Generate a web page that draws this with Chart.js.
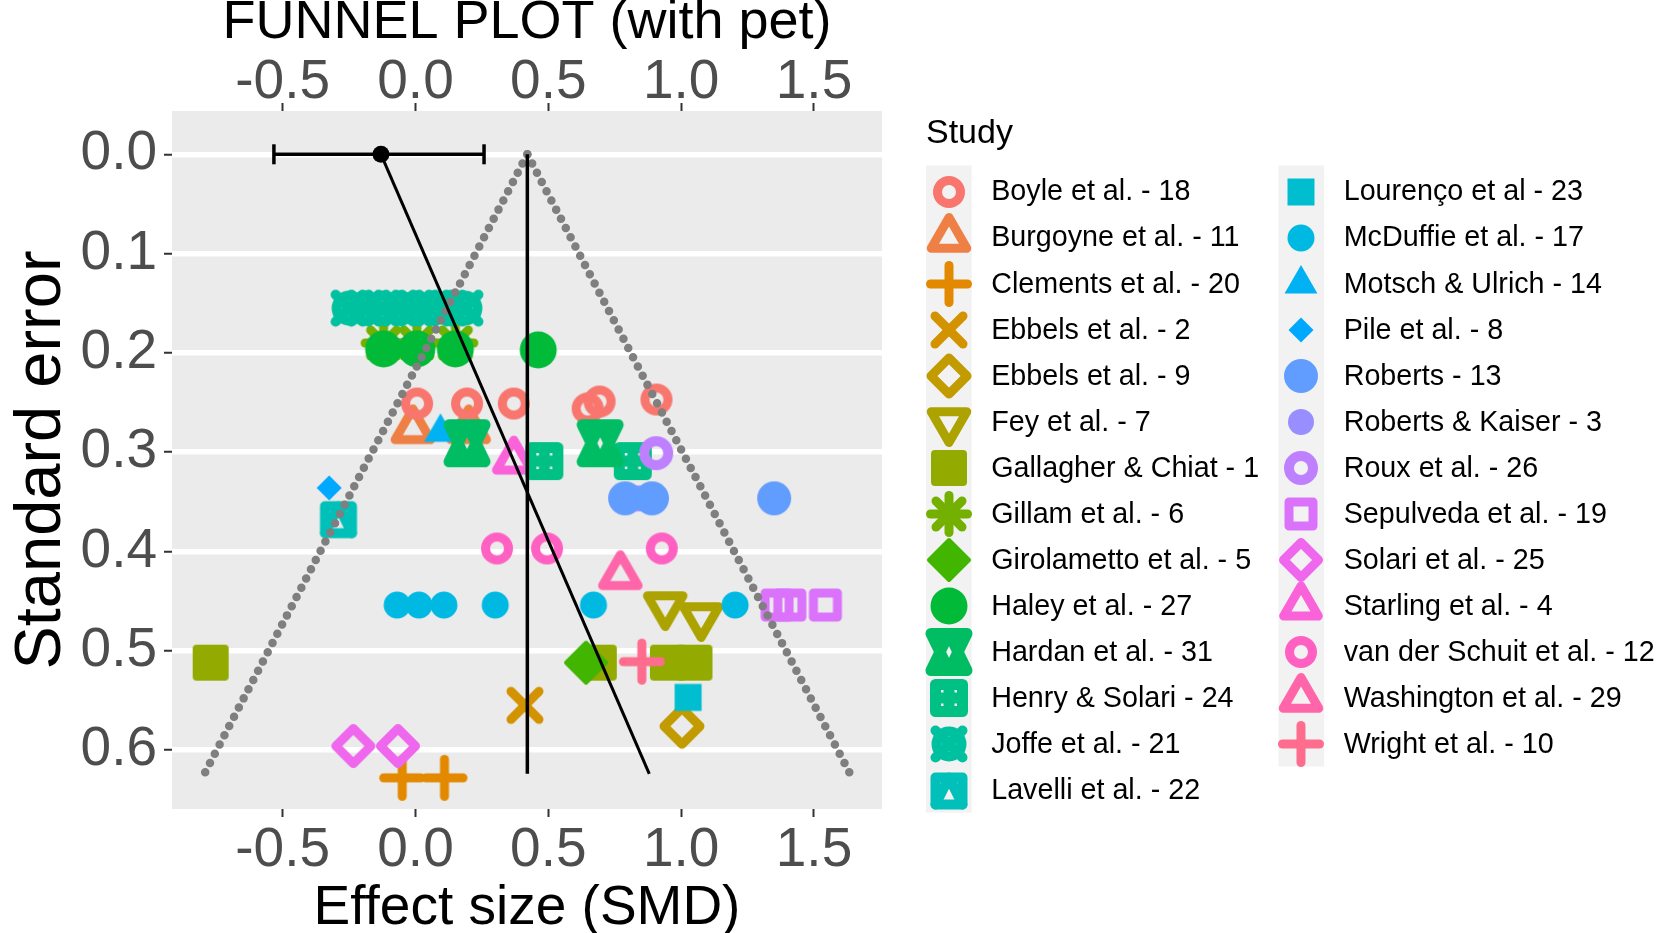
<!DOCTYPE html>
<html>
<head>
<meta charset="utf-8">
<script src="https://cdn.jsdelivr.net/npm/chart.js@4.4.0/dist/chart.umd.min.js"></script>
<style>
  body { margin: 0; background: #fff; }
  #wrap { position: absolute; left: 0; top: 0; width: 1668px; height: 933px; }
</style>
</head>
<body>
<div id="wrap"><canvas id="funnelChart" width="1668" height="933"></canvas></div>
<script>
// Studies (legend order) and their values: effect size (SMD) and standard error
const studies = [
    'Boyle et al. - 18', 'Burgoyne et al. - 11', 'Clements et al. - 20', 'Ebbels et al. - 2',
    'Ebbels et al. - 9', 'Fey et al. - 7', 'Gallagher & Chiat - 1', 'Gillam et al. - 6',
    'Girolametto et al. - 5', 'Haley et al. - 27', 'Hardan et al. - 31', 'Henry & Solari - 24',
    'Joffe et al. - 21', 'Lavelli et al. - 22', 'Lourenço et al - 23', 'McDuffie et al. - 17',
    'Motsch & Ulrich - 14', 'Pile et al. - 8', 'Roberts - 13', 'Roberts & Kaiser - 3',
    'Roux et al. - 26', 'Sepulveda et al. - 19', 'Solari et al. - 25', 'Starling et al. - 4',
    'van der Schuit et al. - 12', 'Washington et al. - 29', 'Wright et al. - 10'
];

const smd = [
    [0.006, 0.194, 0.37, 0.648, 0.693, 0.907],
    [-0.01, 0.20],
    [-0.05, 0.109],
    [0.412],
    [1.003],
    [0.94, 1.075],
    [-0.771, 0.69, 0.95, 1.05],
    [-0.12, 0.005, 0.15],
    [0.642],
    [-0.12, 0.005, 0.15, 0.462],
    [0.194, 0.695],
    [0.485, 0.818],
    [-0.25, -0.19, -0.125, -0.06, 0.0, 0.065, 0.125, 0.186],
    [-0.29],
    [1.026],
    [-0.069, 0.013, 0.107, 0.30, 0.67, 1.203],
    [0.094],
    [-0.325],
    [0.789, 0.89, 1.35],
    [0.84],
    [0.906],
    [1.361, 1.409, 1.543],
    [-0.234, -0.066],
    [0.37],
    [0.307, 0.495, 0.927],
    [0.771],
    [0.852]
];

const se = [
    [0.251, 0.251, 0.251, 0.256, 0.249, 0.247],
    [0.277, 0.277],
    [0.628, 0.628],
    [0.555],
    [0.576],
    [0.455, 0.466],
    [0.512, 0.512, 0.512, 0.512],
    [0.19, 0.19, 0.19],
    [0.512],
    [0.196, 0.196, 0.196, 0.197],
    [0.291, 0.291],
    [0.309, 0.309],
    [0.155, 0.155, 0.155, 0.155, 0.155, 0.155, 0.155, 0.155],
    [0.368],
    [0.547],
    [0.454, 0.454, 0.454, 0.454, 0.454, 0.454],
    [0.28],
    [0.336],
    [0.3465, 0.3465, 0.3465],
    [0.3465],
    [0.301],
    [0.454, 0.454, 0.454],
    [0.596, 0.596],
    [0.308],
    [0.397, 0.397, 0.397],
    [0.424],
    [0.511]
];

// funnel (pooled estimate +/- 1.96 SE), PET regression line and its CI at SE = 0
const funnelSE = [0, 0.624];
const funnelLeftSMD = [0.421, -0.795];
const funnelRightSMD = [0.421, 1.636];
const pooledSMD = [0.421, 0.421];
const petSMD = [-0.13, 0.88];
const petCI = [-0.533, 0.258];

const smdTicks = [-0.5, 0.0, 0.5, 1.0, 1.5];
const seTicks = [0.0, 0.1, 0.2, 0.3, 0.4, 0.5, 0.6];

// ggplot shape number used for each study
const studyShapes = [1, 2, 3, 4, 5, 6, 7, 8, 9, 10, 11, 12, 13, 14, 15, 16, 17, 18, 19, 20, 21, 22, 23, 24, 1, 2, 3];

const FONT = '"Liberation Sans", Arial, sans-serif';

// ggplot2 default hue palette (hcl, c = 100, l = 65)
function hcl(h, c, l) {
    const WX = 95.047, WY = 100.0, WZ = 108.883;
    const wu = 4 * WX / (WX + 15 * WY + 3 * WZ);
    const wv = 9 * WY / (WX + 15 * WY + 3 * WZ);
    const hr = h * Math.PI / 180;
    const U = c * Math.cos(hr), V = c * Math.sin(hr);
    const Y = WY * (l > 7.999592 ? Math.pow((l + 16) / 116, 3) : l / 903.3);
    const u = U / (13 * l) + wu, v = V / (13 * l) + wv;
    const X = 9.0 * Y * u / (4 * v);
    const Z = -X / 3 - 5 * Y + 3 * Y / v;
    const g = t => {
        t = t / 100;
        const r = t > 0.00304 ? 1.055 * Math.pow(t, 1 / 2.4) - 0.055 : 12.92 * t;
        return Math.round(255 * Math.min(1, Math.max(0, r)));
    };
    const R = g(3.240479 * X - 1.537150 * Y - 0.498535 * Z);
    const G = g(-0.969256 * X + 1.875992 * Y + 0.041556 * Z);
    const B = g(0.055648 * X - 0.204043 * Y + 1.057311 * Z);
    return `rgb(${R}, ${G}, ${B})`;
}

const studyColors = studies.map((s, i) => hcl(15 + i * 360 / studies.length, 100, 65));

// draw a ggplot-like point shape on a small canvas, used as pointStyle
function makeMarker(pch, color) {
    const size = 64;
    const c = document.createElement('canvas');
    c.width = size;
    c.height = size;
    const g = c.getContext('2d');
    g.translate(size / 2, size / 2);
    g.strokeStyle = color;
    g.fillStyle = color;
    g.lineJoin = 'round';
    g.lineCap = 'round';
    g.lineWidth = 9;

    const tri = (R, down) => {
        const s = down ? -1 : 1;
        g.beginPath();
        g.moveTo(0, -R * s);
        g.lineTo(R * 0.866, R / 2 * s);
        g.lineTo(-R * 0.866, R / 2 * s);
        g.closePath();
    };
    const diamond = (D) => {
        g.beginPath();
        g.moveTo(0, -D); g.lineTo(D, 0); g.lineTo(0, D); g.lineTo(-D, 0);
        g.closePath();
    };
    const seg = (x1, y1, x2, y2) => {
        g.beginPath(); g.moveTo(x1, y1); g.lineTo(x2, y2); g.stroke();
    };
    const circle = (r) => { g.beginPath(); g.arc(0, 0, r, 0, Math.PI * 2); };

    switch (pch) {
        case 1: circle(11.5); g.stroke(); break;
        case 2: tri(20.5); g.stroke(); break;
        case 3: seg(-18.5, 0, 18.5, 0); seg(0, -18.5, 0, 18.5); break;
        case 4: seg(-14, -14, 14, 14); seg(-14, 14, 14, -14); break;
        case 5: diamond(18); g.stroke(); break;
        case 6: tri(20.5, true); g.stroke(); break;
        case 7:
            g.beginPath(); g.roundRect(-18, -18, 36, 36, 4); g.fill(); break;
        case 8:
            seg(-18.5, 0, 18.5, 0); seg(0, -18.5, 0, 18.5);
            seg(-13, -13, 13, 13); seg(-13, 13, 13, -13); break;
        case 9: diamond(20); g.fill(); g.lineWidth = 4; g.stroke(); break;
        case 10: circle(18.5); g.fill(); break;
        case 11: {
            g.lineWidth = 11;
            const w = 18, h = 18.5;
            g.beginPath(); g.moveTo(0, -h); g.lineTo(w, h); g.lineTo(-w, h); g.closePath(); g.stroke();
            g.beginPath(); g.moveTo(0, h); g.lineTo(w, -h); g.lineTo(-w, -h); g.closePath(); g.stroke();
            break;
        }
        case 12:
            g.lineWidth = 11;
            g.strokeRect(-13.5, -13.5, 27, 27);
            seg(-13.5, 0, 13.5, 0); seg(0, -13.5, 0, 13.5); break;
        case 13:
            g.lineWidth = 10;
            circle(12.5); g.stroke();
            seg(-13.5, -13.5, 13.5, 13.5); seg(-13.5, 13.5, 13.5, -13.5); break;
        case 14:
            g.lineWidth = 10;
            g.strokeRect(-13.5, -13.5, 27, 27);
            g.beginPath(); g.moveTo(-13.5, 13.5); g.lineTo(0, -13.5); g.lineTo(13.5, 13.5); g.stroke(); break;
        case 15: g.fillRect(-13.5, -13.5, 27, 27); break;
        case 16: circle(13.5); g.fill(); break;
        case 17: tri(19); g.fill(); break;
        case 18: diamond(12.5); g.fill(); break;
        case 19: circle(17); g.fill(); break;
        case 20: circle(13); g.fill(); break;
        case 21: g.lineWidth = 10; circle(12); g.stroke(); break;
        case 22: g.strokeRect(-12, -12, 24, 24); break;
        case 23: diamond(17.5); g.stroke(); break;
        case 24: tri(20); g.stroke(); break;
    }
    return c;
}

const markers = studies.map((s, i) => makeMarker(studyShapes[i], studyColors[i]));

// grey panel behind the plot
const panelBackground = {
    id: 'panelBackground',
    beforeDraw(chart) {
        const { ctx, chartArea: a } = chart;
        ctx.save();
        ctx.fillStyle = '#EBEBEB';
        ctx.fillRect(a.left, a.top, a.width, a.height);
        ctx.restore();
    }
};

// two-column legend like ggplot's guide
const studyLegend = {
    id: 'studyLegend',
    afterDraw(chart) {
        const ctx = chart.ctx;
        const rows = 14, rowH = 46.08, firstRow = 191.5, keyW = 45.7;
        const cols = [926, 1278.5];
        ctx.save();
        ctx.fillStyle = '#000';
        ctx.font = '34px ' + FONT;
        ctx.textAlign = 'left';
        ctx.textBaseline = 'alphabetic';
        ctx.fillText('Study', 926, 143);

        // grey key strips
        ctx.fillStyle = '#F2F2F2';
        ctx.fillRect(cols[0], firstRow - 26, keyW, rows * rowH + 2);
        ctx.fillRect(cols[1], firstRow - 26, keyW, (studies.length - rows) * rowH + 2);

        studies.forEach((name, i) => {
            const kx = cols[Math.floor(i / rows)], cy = firstRow + (i % rows) * rowH;
            ctx.drawImage(markers[i], Math.round(kx + keyW / 2 - 32), Math.round(cy - 32));
            ctx.fillStyle = '#000';
            ctx.font = '28.7px ' + FONT;
            ctx.textBaseline = 'middle';
            ctx.fillText(name, kx + keyW + 19.5, cy + 1);
        });
        ctx.restore();
    }
};

const studyNumber = name => parseInt(name.split('- ')[1], 10);

const studyDatasets = studies.map((name, i) => ({
    label: name,
    data: smd[i].map((x, j) => ({ x: x, y: se[i][j] })),
    pointStyle: markers[i],
    pointRadius: 16,
    showLine: false,
    order: 100 - studyNumber(name)
}));

const toPoints = (xs, ys) => xs.map((x, j) => ({ x: x, y: ys[j] }));

const lineDatasets = [
    {
        label: 'funnel left',
        data: toPoints(funnelLeftSMD, funnelSE),
        showLine: true,
        borderColor: '#7F7F7F',
        borderWidth: 8.5,
        borderDash: [0, 10.4],
        borderCapStyle: 'round',
        pointRadius: 0,
        order: -5
    },
    {
        label: 'funnel right',
        data: toPoints(funnelRightSMD, funnelSE),
        showLine: true,
        borderColor: '#7F7F7F',
        borderWidth: 8.5,
        borderDash: [0, 10.4],
        borderCapStyle: 'round',
        pointRadius: 0,
        order: -5
    },
    {
        label: 'pooled',
        data: toPoints(pooledSMD, funnelSE),
        showLine: true,
        borderColor: '#000',
        borderWidth: 3.5,
        pointRadius: 0,
        order: -6
    },
    {
        label: 'PET',
        data: toPoints(petSMD, funnelSE),
        showLine: true,
        borderColor: '#000',
        borderWidth: 3,
        pointRadius: 0,
        order: -7
    },
    {
        label: 'PET CI',
        data: toPoints(petCI, [0, 0]),
        showLine: true,
        borderColor: '#000',
        borderWidth: 3.5,
        pointStyle: 'line',
        pointRotation: 90,
        pointRadius: 10,
        pointBorderWidth: 3.5,
        pointBorderColor: '#000',
        order: -8
    },
    {
        label: 'PET estimate',
        data: toPoints([petSMD[0]], [0]),
        showLine: false,
        pointStyle: 'circle',
        pointRadius: 8.5,
        pointBorderWidth: 0,
        pointBackgroundColor: '#000',
        order: -9
    }
];

const tickFont = { family: FONT, size: 55, lineHeight: 1.0 };

new Chart(document.getElementById('funnelChart'), {
    type: 'scatter',
    data: { datasets: studyDatasets.concat(lineDatasets) },
    options: {
        responsive: false,
        animation: false,
        events: [],
        layout: { padding: { left: 0, right: 786, top: 0, bottom: 0 } },
        plugins: {
            legend: { display: false },
            tooltip: { enabled: false },
            title: {
                display: true,
                text: 'FUNNEL PLOT (with pet)',
                fullSize: false,
                color: '#000',
                font: { family: FONT, size: 54, weight: 'normal', lineHeight: 1.0 },
                padding: { top: -4, bottom: 0 }
            }
        },
        scales: {
            x: {
                type: 'linear',
                position: 'bottom',
                min: -0.9166,
                max: 1.756,
                afterBuildTicks: s => { s.ticks = smdTicks.map(v => ({ value: v })); },
                afterFit: s => { s.height = 124; },
                border: { display: false },
                grid: { drawOnChartArea: false, drawTicks: true, tickLength: 8, tickWidth: 2, tickColor: '#333333' },
                ticks: { font: tickFont, color: '#4D4D4D', padding: 6.5, maxRotation: 0, callback: v => v.toFixed(1) },
                title: {
                    display: true,
                    text: 'Effect size (SMD)',
                    color: '#000',
                    font: { family: FONT, size: 55, lineHeight: 1.0 },
                    padding: { top: 0, bottom: -3 }
                }
            },
            x2: {
                type: 'linear',
                position: 'top',
                min: -0.9166,
                max: 1.756,
                afterBuildTicks: s => { s.ticks = smdTicks.map(v => ({ value: v })); },
                afterFit: s => { s.height = 111 - 50; },
                border: { display: false },
                grid: { drawOnChartArea: false, drawTicks: true, tickLength: 8, tickWidth: 2, tickColor: '#333333' },
                ticks: { font: tickFont, color: '#4D4D4D', padding: -7, maxRotation: 0, callback: v => v.toFixed(1) }
            },
            y: {
                type: 'linear',
                position: 'left',
                reverse: true,
                min: -0.0436,
                max: 0.6594,
                afterBuildTicks: s => { s.ticks = seTicks.map(v => ({ value: v })); },
                afterFit: s => { s.width = 172; },
                border: { display: false },
                grid: { color: '#FFFFFF', lineWidth: 5.5, drawTicks: true, tickLength: 8, tickWidth: 2, tickColor: '#333333' },
                ticks: { font: tickFont, color: '#4D4D4D', padding: 7, callback: v => v.toFixed(1) },
                title: {
                    display: true,
                    text: 'Standard error',
                    color: '#000',
                    font: { family: FONT, size: 65, lineHeight: 1.0 },
                    padding: { top: 10, bottom: 0 }
                }
            }
        }
    },
    plugins: [panelBackground, studyLegend]
});
</script>
</body>
</html>
